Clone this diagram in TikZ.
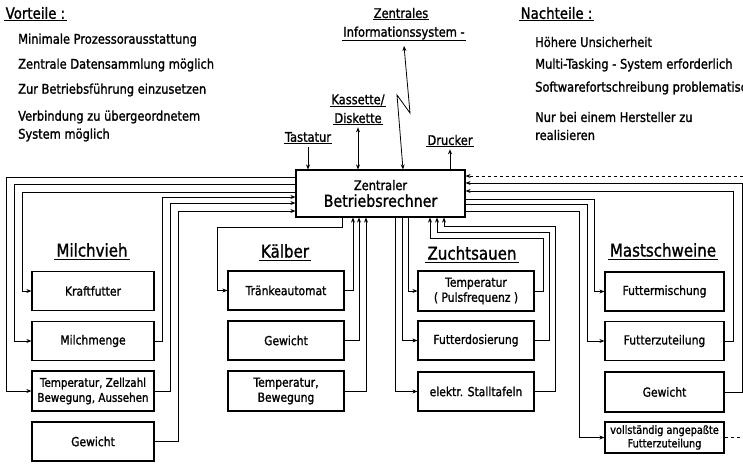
\documentclass[tikz,border=0pt]{standalone}
\usepackage{fontspec}
\setmainfont[FakeStretch=0.86,FakeBold=1.3]{DejaVu Sans}
\usetikzlibrary{arrows.meta}
\tikzset{
  txt/.style={inner sep=1pt, font=\fontsize{13.3}{18}\selectfont},
  item/.style={txt, anchor=west, align=left},
  hdr/.style={inner sep=1.5pt, anchor=west, font=\fontsize{15.5}{18}\selectfont},
  grp/.style={inner sep=2pt, font=\fontsize{17.5}{20}\selectfont},
  unit/.style={draw, line width=1.2pt, minimum height=39pt, inner sep=1pt,
               align=center, font=\fontsize{12.5}{15}\selectfont},
  wire/.style={line width=0.8pt},
  arr/.style={wire, -{Stealth[length=5pt,width=4pt]}},
  darr/.style={wire, {Stealth[length=5pt,width=4pt]}-{Stealth[length=5pt,width=4pt]}},
  ul/.style={line width=0.9pt},
  thickul/.style={line width=1.6pt},
}
\begin{document}
\begin{tikzpicture}[x=1pt,y=-1pt]
\useasboundingbox[fill=white] (0,0) rectangle (743,463);

% --- advantages / disadvantages ---
\node[hdr] (vor) at (4,13) {Vorteile :};
\draw[thickul] (vor.south west) -- (vor.south east);
\node[item] (v1) at (17,40) {Minimale Prozessorausstattung};
\node[item] (v2) at (17,65) {Zentrale Datensammlung möglich};
\node[item] (v3) at (17,90) {Zur Betriebsführung einzusetzen};
\node[item] (v4) at (17,126) {Verbindung zu übergeordnetem\\System möglich};

\node[hdr] (nach) at (519,13) {Nachteile :};
\draw[thickul] (nach.south west) -- (nach.south east);
\node[item] (n1) at (534,42) {Höhere Unsicherheit};
\node[item] (n2) at (534,65) {Multi-Tasking - System erforderlich};
\node[item] (n3) at (534,88) {Softwarefortschreibung problematisch};
\node[item] (n4) at (534,126) {Nur bei einem Hersteller zu\\realisieren};

% --- central computer and peripherals ---
\node[draw, line width=1.2pt, minimum width=169pt, minimum height=47pt, inner sep=0pt, align=center]
  (zb) at (380.5,193.5)
  {\fontsize{13.3}{15}\selectfont Zentraler\\[3pt]\fontsize{16.5}{18}\selectfont Betriebsrechner};

\node[txt] (tast) at (308,137) {Tastatur};
\draw[ul] (tast.south west) -- (tast.south east);
\node[txt] (kas) at (358,100) {Kassette/};
\draw[ul] (kas.south west) -- (kas.south east);
\node[txt] (disk) at (358,118) {Diskette};
\draw[ul] (disk.south west) -- (disk.south east);
\node[txt] (zen) at (401,13) {Zentrales};
\draw[ul] (zen.south west) -- (zen.south east);
\node[txt] (info) at (404,33) {Informationssystem -};
\draw[ul] (info.south west) -- (info.south east);
\node[txt] (druck) at (450,140) {Drucker};
\draw[ul] (druck.south west) -- (druck.south east);

\draw[arr] ([yshift=-4pt]tast.south) -- (zb.north -| tast.south);
\draw[darr] ([yshift=-3pt]disk.south) -- (zb.north -| disk.south);
\draw[arr] (zb.north -| druck.south) -- ([yshift=-3pt]druck.south);
\coordinate (infotip) at (404,46);
\draw[darr] (zb.north -| 403,0) -- (397,95) -- (410,113) -- (infotip);

% --- Milchvieh ---
\node[grp] (gmv) at (92,250) {Milchvieh};
\draw[ul] (gmv.south west) -- (gmv.south east);
\node[unit, minimum width=122pt] (mv1) at (93,291) {Kraftfutter};
\node[unit, minimum width=122pt] (mv2) at (93,341) {Milchmenge};
\node[unit, minimum width=122pt, minimum height=40pt, font=\fontsize{12}{15}\selectfont] (mv3) at (93,391) {Temperatur, Zellzahl\\Bewegung, Aussehen};
\node[unit, minimum width=122pt] (mv4) at (93,441.5) {Gewicht};

\draw[arr] (zb.west |- 0,177) -| ([xshift=-25pt]mv3.west) -- (mv3.west);
\draw[arr] (zb.west |- 0,184) -| ([xshift=-17pt]mv2.west) -- (mv2.west);
\draw[arr] (zb.west |- 0,192) -| ([xshift=-9pt]mv1.west) -- (mv1.west);
\draw[arr] (mv2.east) -| (162,197) -- (zb.west |- 0,197);
\draw[arr] (mv3.east) -| (170,203) -- (zb.west |- 0,203);
\draw[arr] (mv4.east) -| (178,211) -- (zb.west |- 0,211);

% --- Kälber ---
\node[grp] (gkb) at (285,251) {Kälber};
\draw[ul] (gkb.south west) -- (gkb.south east);
\node[unit, minimum width=116pt] (kb1) at (286,290.5) {Tränkeautomat};
\node[unit, minimum width=116pt] (kb2) at (286,340.5) {Gewicht};
\node[unit, minimum width=116pt, minimum height=40pt] (kb3) at (286,391) {Temperatur,\\Bewegung};

\draw[arr] (zb.south -| 342,0) -- (342,227) -| ([xshift=-10pt]kb1.west) -- (kb1.west);
\draw[arr] (kb1.east) -| (zb.south -| 353,0);
\draw[arr] (kb2.east) -| (zb.south -| 359,0);
\draw[arr] (kb3.east) -| (zb.south -| 366,0);

% --- Zuchtsauen ---
\node[grp] (gzs) at (472,253) {Zuchtsauen};
\draw[ul] (gzs.south west) -- (gzs.south east);
\node[unit, minimum width=116pt, minimum height=40pt] (zs1) at (476,291) {Temperatur\\( Pulsfrequenz )};
\node[unit, minimum width=116pt] (zs2) at (476,340.5) {Futterdosierung};
\node[unit, minimum width=116pt] (zs3) at (476,391.5) {elektr. Stalltafeln};

\draw[arr] (zb.south -| 408,0) |- (zs1.west);
\draw[arr] (zb.south -| 402,0) |- (zs2.west);
\draw[arr] (zb.south -| 395,0) |- (zs3.west);
\draw[arr] (zs1.east) -| (543,238) -| (zb.south -| 430,0);
\draw[arr] (zs2.east) -| (549,232) -| (zb.south -| 437,0);
\draw[arr] (zs3.east) -| (555,226) -| (zb.south -| 444,0);

% --- Mastschweine ---
\node[grp] (gms) at (663,250) {Mastschweine};
\draw[ul] (gms.south west) -- (gms.south east);
\node[unit, minimum width=119pt] (ms1) at (664.5,291.5) {Futtermischung};
\node[unit, minimum width=119pt] (ms2) at (664.5,341) {Futterzuteilung};
\node[unit, minimum width=119pt, minimum height=40pt] (ms3) at (664.5,392) {Gewicht};
\node[unit, minimum width=119pt, minimum height=31pt, font=\fontsize{11.3}{13.5}\selectfont] (ms4) at (664.5,437.5) {vollständig angepaßte\\Futterzuteilung};

\draw[arr] (zb.east |- 0,199) -| ([xshift=-10pt]ms1.west) -- (ms1.west);
\draw[arr] (zb.east |- 0,204) -| ([xshift=-17pt]ms2.west) -- (ms2.west);
\draw[arr] (zb.east |- 0,211) -| ([xshift=-25pt]ms4.west) -- (ms4.west);
\draw[arr] (ms2.east) -| (733,191) -- (zb.east |- 0,191);
\draw[arr] (ms3.east) -| (742,183) -- (zb.east |- 0,183);
\draw[arr, dashed] (ms4.east) -| (750,176) -- (zb.east |- 0,176);
\end{tikzpicture}
\end{document}
